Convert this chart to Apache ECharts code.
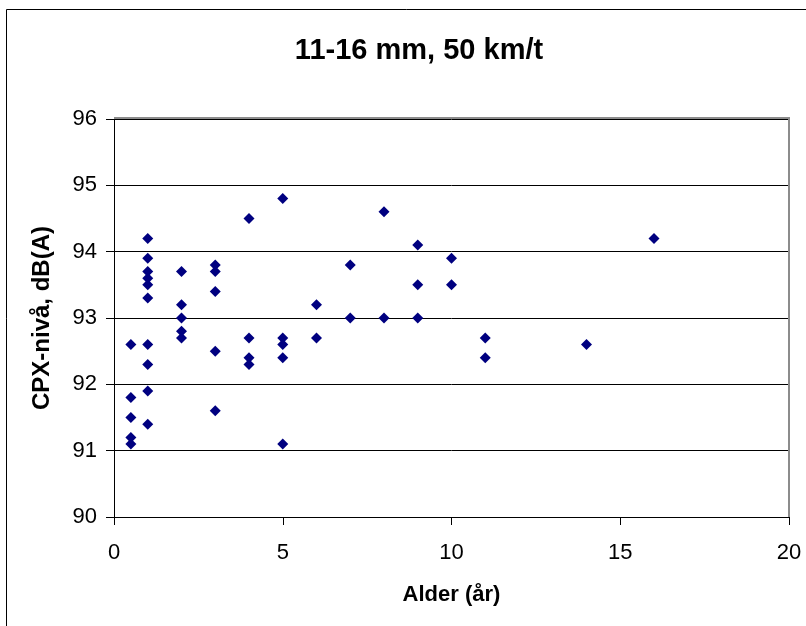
<!DOCTYPE html>
<html>
<head>
<meta charset="utf-8">
<script src="https://cdn.jsdelivr.net/npm/echarts@6/dist/echarts.min.js"></script>
<style>
  html, body { margin: 0; padding: 0; background: #fff; }
  #chart { width: 806px; height: 626px; }
</style>
</head>
<body>
<div id="chart"></div>
<script>
// Age (years) and CPX level dB(A)
const ages = [
  0.5, 0.5, 0.5, 0.5, 0.5,
  1, 1, 1, 1, 1, 1, 1, 1, 1, 1,
  2, 2, 2, 2, 2,
  3, 3, 3, 3, 3,
  4, 4, 4, 4,
  5, 5, 5, 5, 5,
  6, 6,
  7, 7,
  8, 8,
  9, 9, 9,
  10, 10,
  11, 11,
  14,
  16
];
const levels = [
  92.6, 91.8, 91.5, 91.2, 91.1,
  94.2, 93.9, 93.7, 93.6, 93.5, 93.3, 92.6, 92.3, 91.9, 91.4,
  93.7, 93.2, 93.0, 92.8, 92.7,
  93.8, 93.7, 93.4, 92.5, 91.6,
  94.5, 92.7, 92.4, 92.3,
  94.8, 92.7, 92.6, 92.4, 91.1,
  93.2, 92.7,
  93.8, 93.0,
  94.6, 93.0,
  94.1, 93.5, 93.0,
  93.9, 93.5,
  92.7, 92.4,
  92.6,
  94.2
];
const titleText = '11-16 mm, 50 km/t';
const xAxisTitle = 'Alder (år)';
const yAxisTitle = 'CPX-nivå, dB(A)';

const points = ages.map((a, i) => [a, levels[i]]);
const font = '"Liberation Sans", Arial, sans-serif';

const chart = echarts.init(document.getElementById('chart'), null, { renderer: 'canvas' });
chart.setOption({
  backgroundColor: '#fff',
  animation: false,
  title: {
    text: titleText,
    left: 414,
    textAlign: 'center',
    top: 31,
    textStyle: { fontFamily: font, fontWeight: 'bold', fontSize: 29, color: '#000' }
  },
  graphic: [
    {
      type: 'rect',
      shape: { x: 6.5, y: 9.5, width: 1200, height: 1200 },
      style: { fill: 'none', stroke: '#000', lineWidth: 1 },
      silent: true
    },
    {
      type: 'polyline',
      shape: { points: [[114, 118], [789, 118], [789, 517]] },
      style: { fill: 'none', stroke: '#8c8c8c', lineWidth: 2 },
      silent: true,
      z: 10
    }
  ],
  grid: { left: 114, right: 17, top: 119, bottom: 109, containLabel: false },
  xAxis: {
    type: 'value',
    min: 0, max: 20, interval: 5,
    name: xAxisTitle,
    nameLocation: 'middle',
    nameGap: 67,
    nameTextStyle: { fontFamily: font, fontWeight: 'bold', fontSize: 22, color: '#000' },
    axisLine: { show: true, onZero: false, lineStyle: { color: '#000', width: 1 } },
    axisTick: { show: true, inside: false, length: 8, lineStyle: { color: '#000' } },
    axisLabel: { fontFamily: font, fontSize: 22, color: '#000', margin: 25 },
    splitLine: { show: false }
  },
  yAxis: {
    type: 'value',
    min: 90, max: 96, interval: 1,
    name: yAxisTitle,
    nameLocation: 'middle',
    nameGap: 60,
    nameRotate: 90,
    nameTextStyle: { fontFamily: font, fontWeight: 'bold', fontSize: 24, color: '#000' },
    axisLine: { show: true, onZero: false, lineStyle: { color: '#000', width: 1 } },
    axisTick: { show: true, inside: false, length: 8, lineStyle: { color: '#000' } },
    axisLabel: { fontFamily: font, fontSize: 22, color: '#000', margin: 17 },
    splitLine: { show: true, lineStyle: { color: '#000', width: 1 } }
  },
  series: [{
    type: 'scatter',
    data: points,
    symbol: 'diamond',
    symbolSize: 11,
    itemStyle: { color: '#000080', opacity: 1 },
    z: 20
  }]
});
</script>
</body>
</html>
